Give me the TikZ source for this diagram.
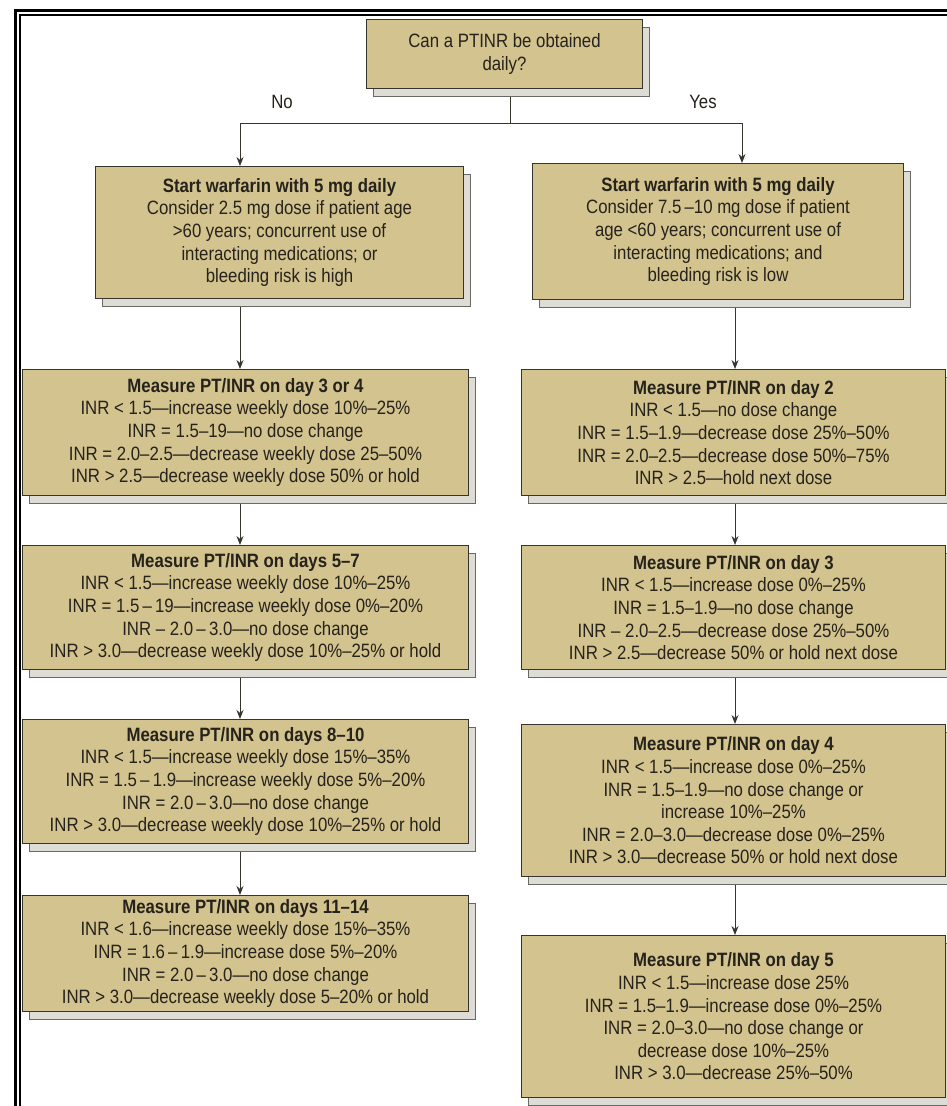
\documentclass[tikz,border=0pt]{standalone}
\usepackage{fontspec}
\setmainfont{Liberation Sans}[FakeStretch=0.87]
\usepackage{tikz}
\usetikzlibrary{
  arrows.meta,
  positioning,
  shadows
}

\definecolor{boxfill}{RGB}{211,195,142}
\definecolor{boxline}{RGB}{55,52,45}
\definecolor{shadefill}{RGB}{221,221,214}
\definecolor{shadeline}{RGB}{105,105,100}
\definecolor{inktext}{RGB}{38,34,28}

\tikzset{
  stepbox/.style={
    draw=boxline, fill=boxfill, line width=1pt,
    inner sep=0pt, align=center, anchor=north west,
    text=inktext, font=\fontsize{19.3}{22.6}\selectfont,
    copy shadow={shadow xshift=7pt, shadow yshift=-8pt,
      fill=shadefill, draw=shadeline, line width=1pt}
  },
  link/.style={->, line width=0.9pt, draw=boxline},
  answer/.style={text=inktext, font=\fontsize{19.3}{22.6}\selectfont}
}

\begin{document}
\begin{tikzpicture}[
    x=1pt, y=-1pt,
    >={Stealth[length=9pt,width=7pt]}
    ]

    \fill[white] (0,0) rectangle (947,1106);
    \useasboundingbox (0,0) rectangle (947,1106);

    \draw[line width=3pt] (15,1106) -- (15,10) -- (947,10);
    \draw[line width=1.2pt] (20,1106) -- (20,15) -- (947,15);

    \coordinate (colL) at (240,0);
    \coordinate (colR) at (735,0);
    \coordinate (split) at (510,123);

    \node[stepbox, minimum width=276pt, minimum height=69pt]
    (ask) at (366,19) {Can a PTINR be obtained\\daily?};

    \node[answer] (no) at (282,102) {No};
    \node[answer] (yes) at (703,102) {Yes};

    \node[stepbox, minimum width=368pt, minimum height=132pt]
    (startlo) at (95,166)
    {\textbf{Start warfarin with 5 mg daily}\\
    Consider 2.5 mg dose if patient age\\
    >60 years; concurrent use of\\
    interacting medications; or\\
    bleeding risk is high};

    \node[stepbox, minimum width=371pt, minimum height=136pt]
    (starthi) at (532,163)
    {\textbf{Start warfarin with 5 mg daily}\\
    Consider 7.5\,–10 mg dose if patient\\
    age <60 years; concurrent use of\\
    interacting medications; and\\
    bleeding risk is low};

    \node[stepbox, minimum width=446pt, minimum height=126pt]
    (dayIIIlo) at (22,369)
    {\textbf{Measure PT/INR on day 3 or 4}\\
    INR < 1.5—increase weekly dose 10\%–25\%\\
    INR = 1.5–19—no dose change\\
    INR = 2.0–2.5—decrease weekly dose 25–50\%\\
    INR > 2.5—decrease weekly dose 50\% or hold};

    \node[stepbox, minimum width=424pt, minimum height=126pt]
    (dayIIhi) at (521,369)
    {\textbf{Measure PT/INR on day 2}\\
    INR < 1.5—no dose change\\
    INR = 1.5–1.9—decrease dose 25\%–50\%\\
    INR = 2.0–2.5—decrease dose 50\%–75\%\\
    INR > 2.5—hold next dose};

    \node[stepbox, minimum width=446pt, minimum height=124pt]
    (dayVlo) at (22,545)
    {\textbf{Measure PT/INR on days 5–7}\\
    INR < 1.5—increase weekly dose 10\%–25\%\\
    INR = 1.5\,–\,19—increase weekly dose 0\%–20\%\\
    INR – 2.0\,–\,3.0—no dose change\\
    INR > 3.0—decrease weekly dose 10\%–25\% or hold};

    \node[stepbox, minimum width=424pt, minimum height=124pt]
    (dayIIIhi) at (521,545)
    {\textbf{Measure PT/INR on day 3}\\
    INR < 1.5—increase dose 0\%–25\%\\
    INR = 1.5–1.9—no dose change\\
    INR – 2.0–2.5—decrease dose 25\%–50\%\\
    INR > 2.5—decrease 50\% or hold next dose};

    \node[stepbox, minimum width=446pt, minimum height=124pt]
    (dayVIIIlo) at (22,719)
    {\textbf{Measure PT/INR on days 8–10}\\
    INR < 1.5—increase weekly dose 15\%–35\%\\
    INR = 1.5\,–\,1.9—increase weekly dose 5\%–20\%\\
    INR = 2.0\,–\,3.0—no dose change\\
    INR > 3.0—decrease weekly dose 10\%–25\% or hold};

    \node[stepbox, minimum width=424pt, minimum height=152pt]
    (dayIVhi) at (521,724)
    {\textbf{Measure PT/INR on day 4}\\
    INR < 1.5—increase dose 0\%–25\%\\
    INR = 1.5–1.9—no dose change or\\
    increase 10\%–25\%\\
    INR = 2.0–3.0—decrease dose 0\%–25\%\\
    INR > 3.0—decrease 50\% or hold next dose};

    \node[stepbox, minimum width=446pt, minimum height=116pt]
    (dayXIlo) at (22,895)
    {\textbf{Measure PT/INR on days 11–14}\\
    INR < 1.6—increase weekly dose 15\%–35\%\\
    INR = 1.6\,–\,1.9—increase dose 5\%–20\%\\
    INR = 2.0\,–\,3.0—no dose change\\
    INR > 3.0—decrease weekly dose 5–20\% or hold};

    \node[stepbox, minimum width=424pt, minimum height=162pt]
    (dayVhi) at (521,935)
    {\textbf{Measure PT/INR on day 5}\\
    INR < 1.5—increase dose 25\%\\
    INR = 1.5–1.9—increase dose 0\%–25\%\\
    INR = 2.0–3.0—no dose change or\\
    decrease dose 10\%–25\%\\
    INR > 3.0—decrease 25\%–50\%};

    \draw[line width=0.9pt, draw=boxline]
    ([yshift=-8pt]split |- ask.south) -- (split);
    \draw[link] (split) -| (colL |- startlo.north);
    \draw[link] (split) -| ([xshift=7pt]colR |- starthi.north);

    \draw[link] ([yshift=-8pt]colL |- startlo.south) -- (colL |- dayIIIlo.north);
    \draw[link] ([yshift=-8pt]colL |- dayIIIlo.south) -- (colL |- dayVlo.north);
    \draw[link] ([yshift=-8pt]colL |- dayVlo.south) -- (colL |- dayVIIIlo.north);
    \draw[link] ([yshift=-8pt]colL |- dayVIIIlo.south) -- (colL |- dayXIlo.north);

    \draw[link] ([yshift=-8pt]colR |- starthi.south) -- (colR |- dayIIhi.north);
    \draw[link] ([yshift=-8pt]colR |- dayIIhi.south) -- (colR |- dayIIIhi.north);
    \draw[link] ([yshift=-8pt]colR |- dayIIIhi.south) -- (colR |- dayIVhi.north);
    \draw[link] ([yshift=-8pt]colR |- dayIVhi.south) -- (colR |- dayVhi.north);

\end{tikzpicture}
\end{document}
